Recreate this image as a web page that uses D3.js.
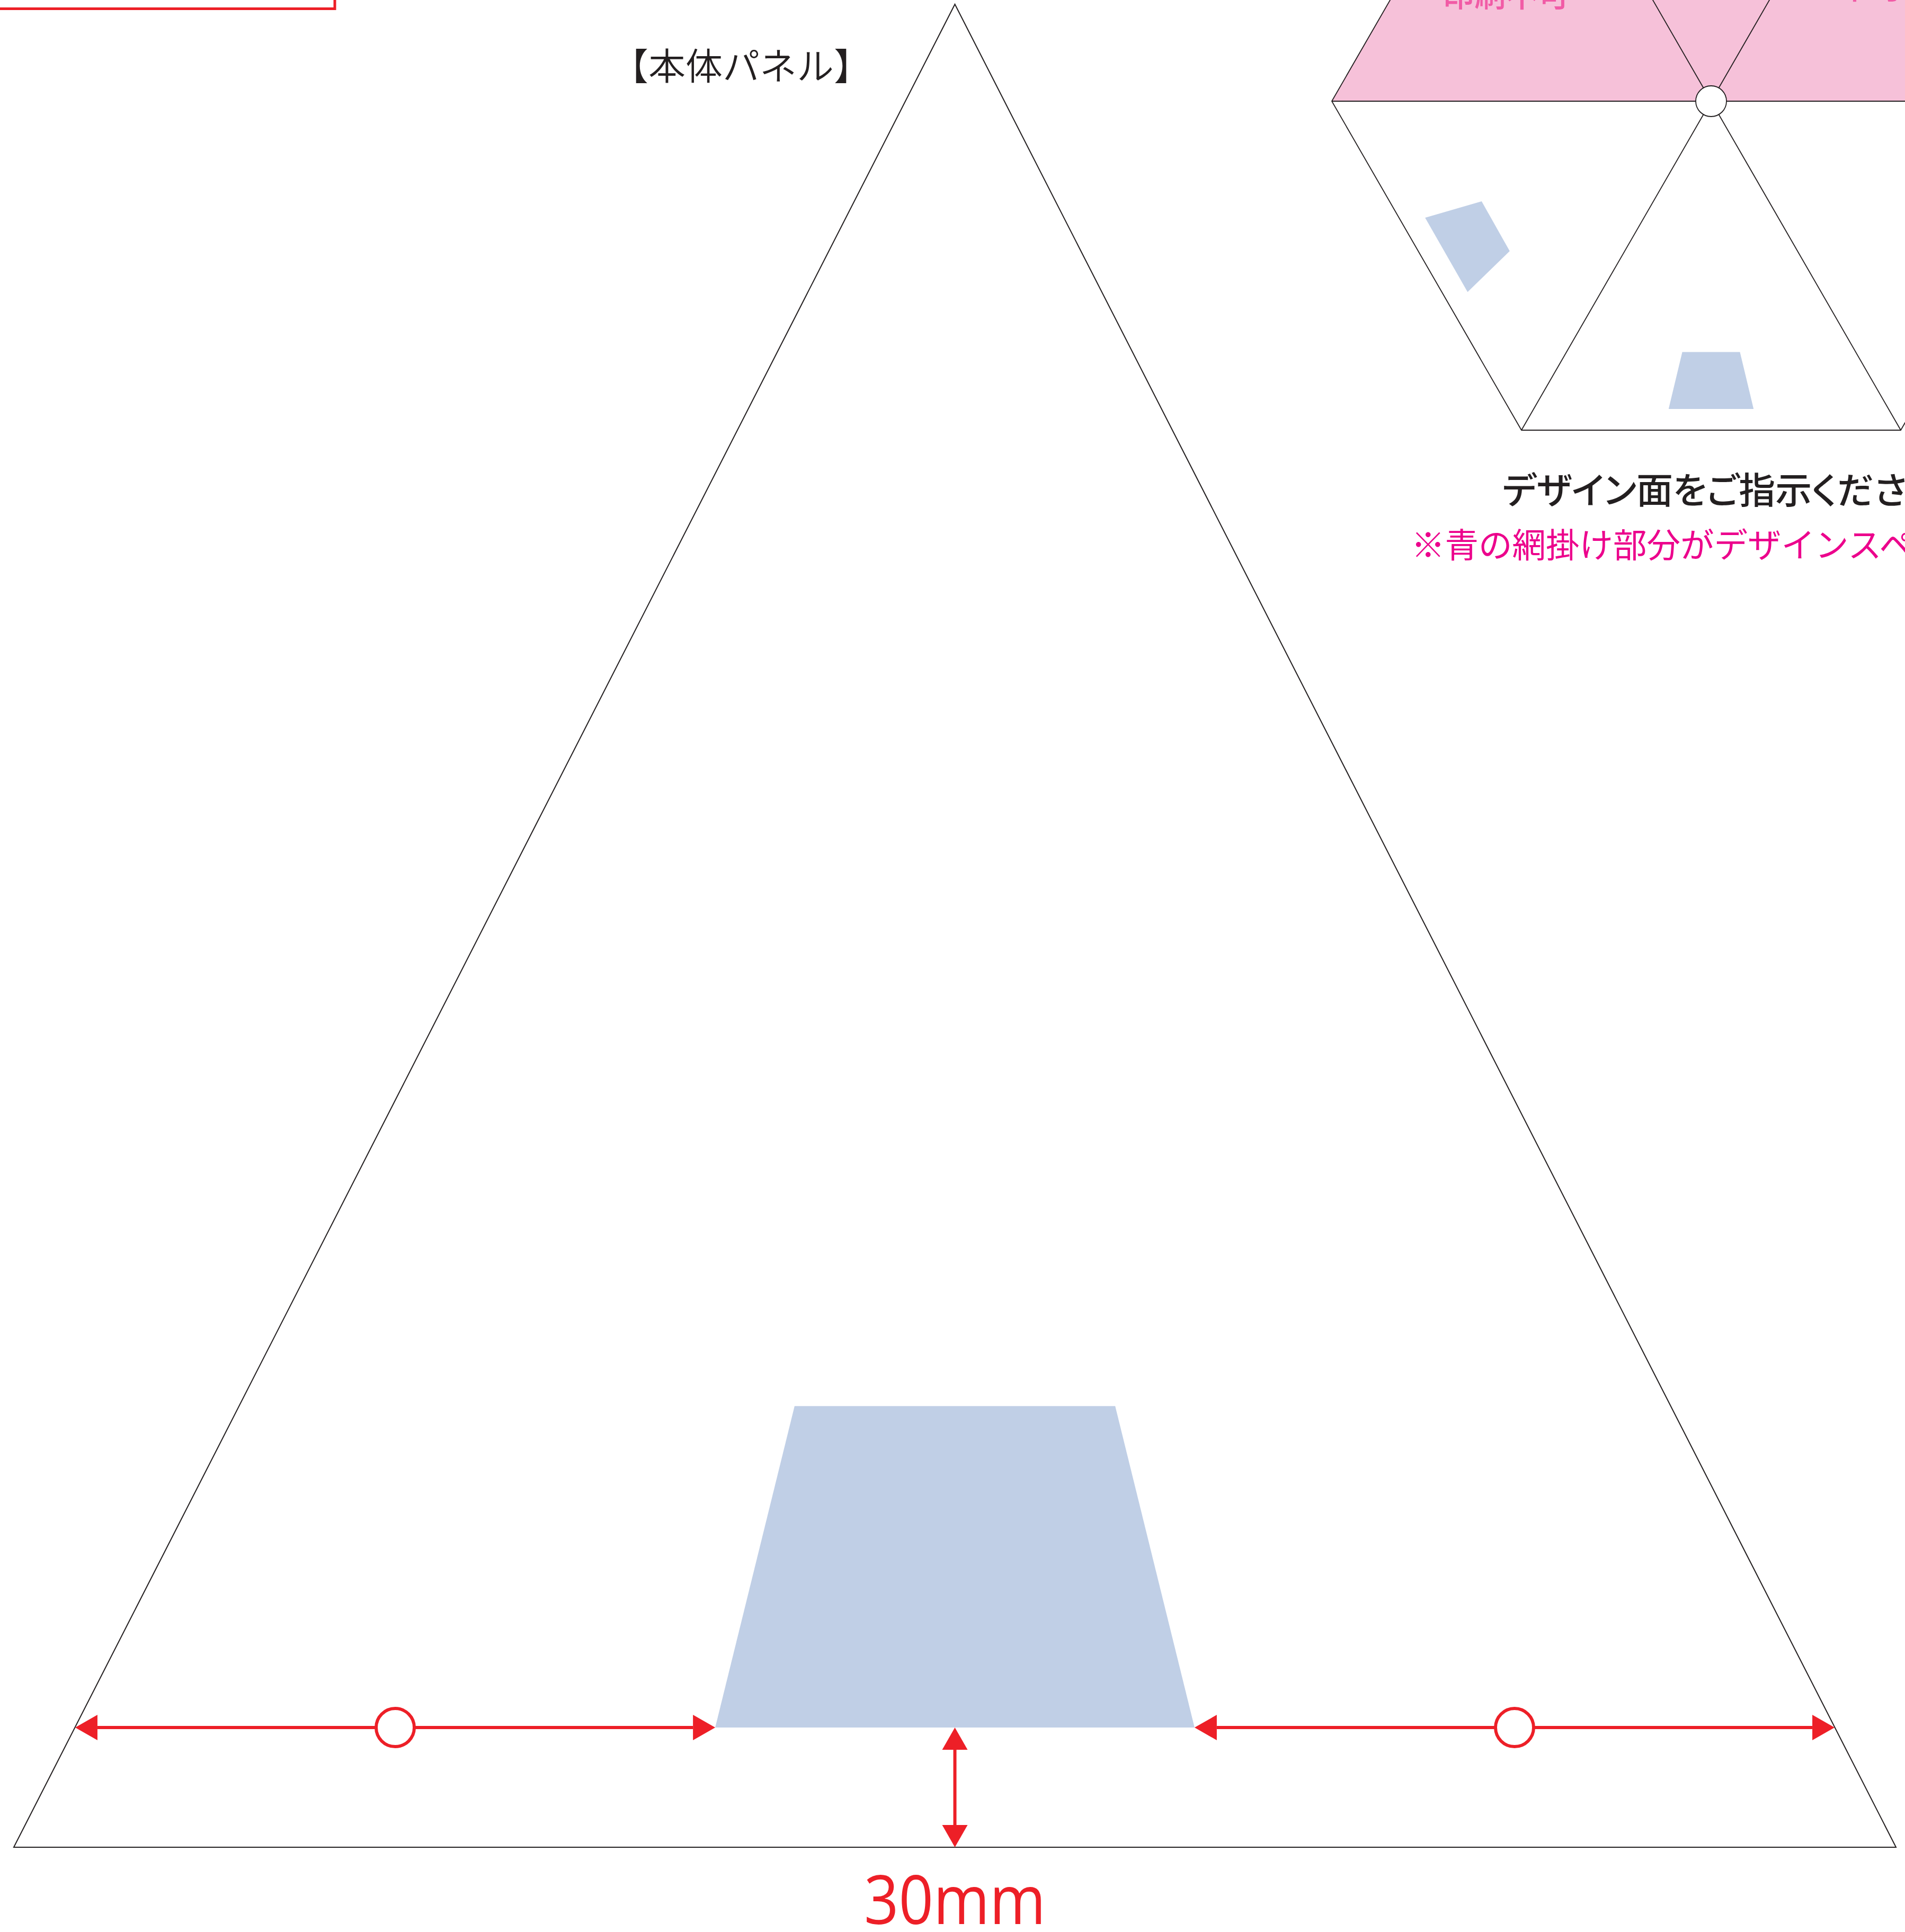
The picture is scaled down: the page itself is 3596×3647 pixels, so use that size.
<!DOCTYPE html>
<html lang="ja">
<head>
<meta charset="utf-8">
<title>本体パネル</title>
<script src="https://cdn.jsdelivr.net/npm/d3@7"></script>
<style>
    html, body { margin: 0; padding: 0; background: #fff; }
    svg { display: block; }
    text { font-family: "Noto Sans CJK JP", "Noto Sans", sans-serif; }
</style>
</head>
<body>
<div id="chart"></div>
<script>
// main panel, in mm from the bottom left corner
const panelOutline = [[0, 0], [236, 462], [472, 0]]
const panelDesign = [[175.9, 30], [195.8, 110.6], [276.2, 110.6], [296.1, 30]]
const widthSpans = [[15.4, 175.9], [296.1, 456.6]]
const heightSpan = [0, 30]
const spanLevel = 30
const panelCentre = 236

// small view of the hexagon, radius = 100 units
const hexOutline = [[-100, 0], [-50, 86.7], [50, 86.7], [100, 0], [50, -86.7], [-50, -86.7]]
const hexPinkHalf = [[-100, 0], [-50, 86.7], [50, 86.7], [100, 0]]
const hexDesigns = [
    [[-7.6, -66.1], [7.6, -66.1], [11.2, -81.1], [-11.2, -81.1]],
    [[-75.4, -30.7], [-60.5, -26.4], [-53.1, -39.5], [-64.2, -50.3]]
]

const panelTitle = "【本体パネル】"
const sizeLabel = "30mm"
const noPrintLeft = "印刷不可"
const noPrintRight = "不可"
const instruction = "デザイン面をご指示ください。"
const note = "※青の網掛け部分がデザインスペースです。"

const width = 3596
const height = 3647
const red = "#ed1f27"
const ink = "#231f20"
const blue = "#c0cfe6"

const svg = d3.select("#chart").append("svg")
    .attr("width", width)
    .attr("height", height)
    .attr("viewBox", [0, 0, width, height])

svg.append("rect").attr("width", width).attr("height", height).attr("fill", "#fff")

const xScale = d3.scaleLinear().domain([0, 472]).range([26, 3579])
const yScale = d3.scaleLinear().domain([0, 462]).range([3487, 8])
const hexX = d3.scaleLinear().domain([-100, 100]).range([2514, 3946])
const hexY = d3.scaleLinear().domain([-86.7, 86.7]).range([812, -430])

const panelLine = d3.line().x(d => xScale(d[0])).y(d => yScale(d[1]))
const hexLine = d3.line().x(d => hexX(d[0])).y(d => hexY(d[1]))

// red box corner, top left
svg.append("rect")
    .attr("x", -20).attr("y", -20)
    .attr("width", 652).attr("height", 36.5)
    .attr("fill", "none")
    .attr("stroke", red)
    .attr("stroke-width", 5)

// main panel
svg.append("path")
    .attr("d", panelLine(panelDesign) + "Z")
    .attr("fill", blue)

svg.append("path")
    .attr("d", panelLine(panelOutline) + "Z")
    .attr("fill", "none")
    .attr("stroke", ink)
    .attr("stroke-width", 2)
    .attr("stroke-linejoin", "miter")

svg.append("text")
    .attr("x", 1154).attr("y", 151)
    .attr("font-size", 70)
    .attr("font-weight", 350)
    .attr("fill", ink)
    .text(panelTitle)

// width arrows with the circle marks
const headLength = 42
const headHalf = 24
const spanY = yScale(spanLevel)

const spans = svg.append("g").selectAll("g").data(widthSpans).join("g")

spans.append("line")
    .attr("x1", d => xScale(d[0]) + headLength)
    .attr("x2", d => xScale(d[1]) - headLength)
    .attr("y1", spanY).attr("y2", spanY)
    .attr("stroke", red)
    .attr("stroke-width", 6)

spans.append("path")
    .attr("d", d => {
        const a = xScale(d[0])
        return `M${a},${spanY}L${a + headLength},${spanY - headHalf}L${a + headLength},${spanY + headHalf}Z`
    })
    .attr("fill", red)

spans.append("path")
    .attr("d", d => {
        const b = xScale(d[1])
        return `M${b},${spanY}L${b - headLength},${spanY - headHalf}L${b - headLength},${spanY + headHalf}Z`
    })
    .attr("fill", red)

spans.append("circle")
    .attr("cx", d => xScale((d[0] + d[1]) / 2))
    .attr("cy", spanY)
    .attr("r", 36)
    .attr("fill", "#fff")
    .attr("stroke", red)
    .attr("stroke-width", 6)

// height arrow
const cx = xScale(panelCentre)
const y0 = yScale(heightSpan[0])
const y1 = yScale(heightSpan[1])

svg.append("line")
    .attr("x1", cx).attr("x2", cx)
    .attr("y1", y1 + headLength).attr("y2", y0 - headLength)
    .attr("stroke", red)
    .attr("stroke-width", 6)

svg.append("path")
    .attr("d", `M${cx},${y1}L${cx - headHalf},${y1 + headLength}L${cx + headHalf},${y1 + headLength}Z`)
    .attr("fill", red)

svg.append("path")
    .attr("d", `M${cx},${y0}L${cx - headHalf},${y0 - headLength}L${cx + headHalf},${y0 - headLength}Z`)
    .attr("fill", red)

svg.append("text")
    .attr("x", cx).attr("y", 3632)
    .attr("text-anchor", "middle")
    .attr("font-size", 129)
    .attr("font-weight", 400)
    .attr("textLength", 343)
    .attr("lengthAdjust", "spacingAndGlyphs")
    .attr("fill", red)
    .style("font-family", "'Open Sans'")
    .text(sizeLabel)

// small hexagon view, top right
svg.append("path")
    .attr("d", hexLine(hexPinkHalf) + "Z")
    .attr("fill", "#f6c1d9")

svg.append("g").selectAll("path").data(hexDesigns).join("path")
    .attr("d", d => hexLine(d) + "Z")
    .attr("fill", blue)

svg.append("path")
    .attr("d", hexLine(hexOutline) + "Z")
    .attr("fill", "none")
    .attr("stroke", ink)
    .attr("stroke-width", 1.8)

svg.append("g").selectAll("line").data(hexOutline).join("line")
    .attr("x1", hexX(0)).attr("y1", hexY(0))
    .attr("x2", d => hexX(d[0])).attr("y2", d => hexY(d[1]))
    .attr("stroke", ink)
    .attr("stroke-width", 1.8)

svg.append("circle")
    .attr("cx", hexX(0)).attr("cy", hexY(0))
    .attr("r", 29)
    .attr("fill", "#fff")
    .attr("stroke", ink)
    .attr("stroke-width", 1.8)

svg.append("text")
    .attr("x", 2723).attr("y", 13)
    .attr("font-size", 60)
    .attr("font-weight", 500)
    .attr("fill", "#f15ba6")
    .text(noPrintLeft)

svg.append("text")
    .attr("x", 3471).attr("y", -2)
    .attr("font-size", 60)
    .attr("font-weight", 500)
    .attr("fill", "#f15ba6")
    .text(noPrintRight)

svg.append("text")
    .attr("x", 2836).attr("y", 951)
    .attr("font-size", 69)
    .attr("font-weight", 500)
    .attr("fill", ink)
    .style("font-feature-settings", "'palt'")
    .text(instruction)

svg.append("text")
    .attr("x", 2664).attr("y", 1052)
    .attr("font-size", 63.5)
    .attr("font-weight", 400)
    .attr("fill", "#ec008c")
    .text(note)
</script>
</body>
</html>
